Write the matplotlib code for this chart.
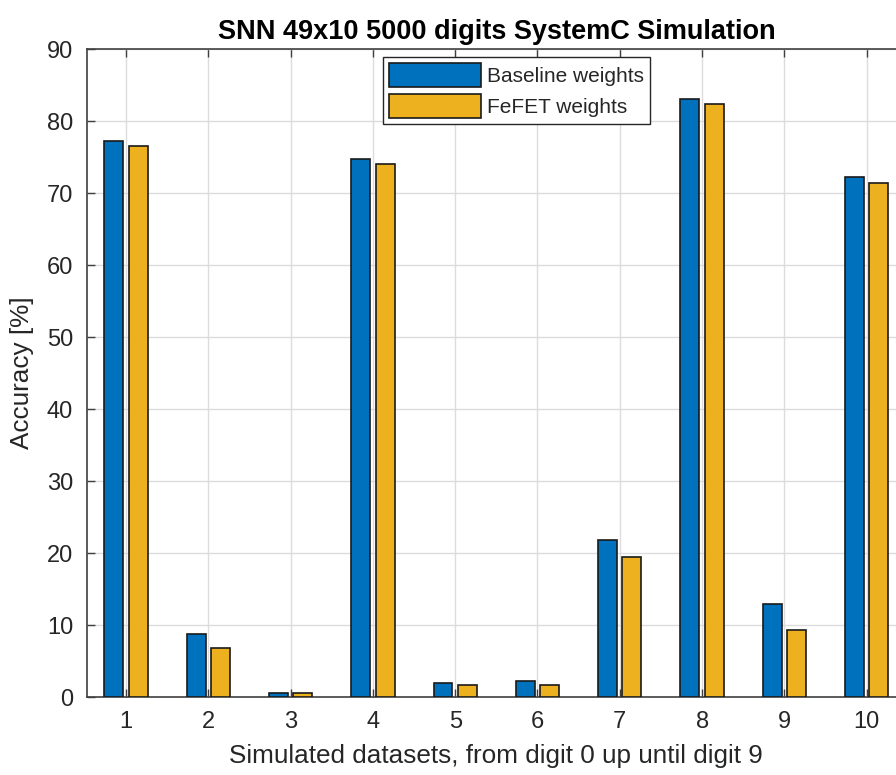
import matplotlib.pyplot as plt
import numpy as np

plt.rcParams['font.family'] = ['Liberation Sans', 'DejaVu Sans']

datasets = [1, 2, 3, 4, 5, 6, 7, 8, 9, 10]
baseline = [77.2, 8.7, 0.55, 74.7, 1.9, 2.2, 21.8, 83.0, 12.9, 72.2]
fefet = [76.5, 6.8, 0.5, 74.0, 1.7, 1.7, 19.5, 82.4, 9.3, 71.4]

blue = '#0072BD'
yellow = '#EDB120'
txt = '#262626'

fig = plt.figure(figsize=(8.96, 7.75), dpi=100)
ax = fig.add_axes([0.0971, 0.1006, 0.9137, 0.8361])

x = np.array(datasets)
w = 0.23
ax.bar(x - 0.148, baseline, w, color=blue, edgecolor='#1a1a1a', linewidth=1.2,
       label='Baseline weights', zorder=3)
ax.bar(x + 0.148, fefet, w, color=yellow, edgecolor='#1a1a1a', linewidth=1.2,
       label='FeFET weights', zorder=3)

ax.set_xlim(0.526, 10.474)
ax.set_ylim(0, 90)
ax.set_xticks(datasets)
ax.set_yticks(range(0, 91, 10))
ax.grid(True, color='#dcdcdc', linewidth=1.0, zorder=0)
ax.tick_params(direction='in', length=6, width=1, colors='#404040',
               labelcolor=txt, labelsize=17, pad=10, top=True, right=True)
for s in ax.spines.values():
    s.set_color('#404040')
    s.set_linewidth(1.2)

ax.set_xlabel('Simulated datasets, from digit 0 up until digit 9',
              fontsize=18.8, color=txt, labelpad=8)
ax.set_ylabel('Accuracy [%]', fontsize=18.8, color=txt, labelpad=9)
ax.set_title('SNN 49x10 5000 digits SystemC Simulation', fontsize=19.5,
             fontweight='bold', color='black', pad=7)

leg = ax.legend(loc='upper left', bbox_to_anchor=(0.3616, 0.9877),
                fontsize=15, handlelength=4.4, handleheight=1.4,
                handletextpad=0.3, labelspacing=0.3, borderpad=0.3,
                borderaxespad=0, fancybox=False, framealpha=1)
leg.get_frame().set_edgecolor('#262626')
leg.get_frame().set_linewidth(1.0)
for t in leg.get_texts():
    t.set_color(txt)

fig.savefig('out.png', dpi=100)
